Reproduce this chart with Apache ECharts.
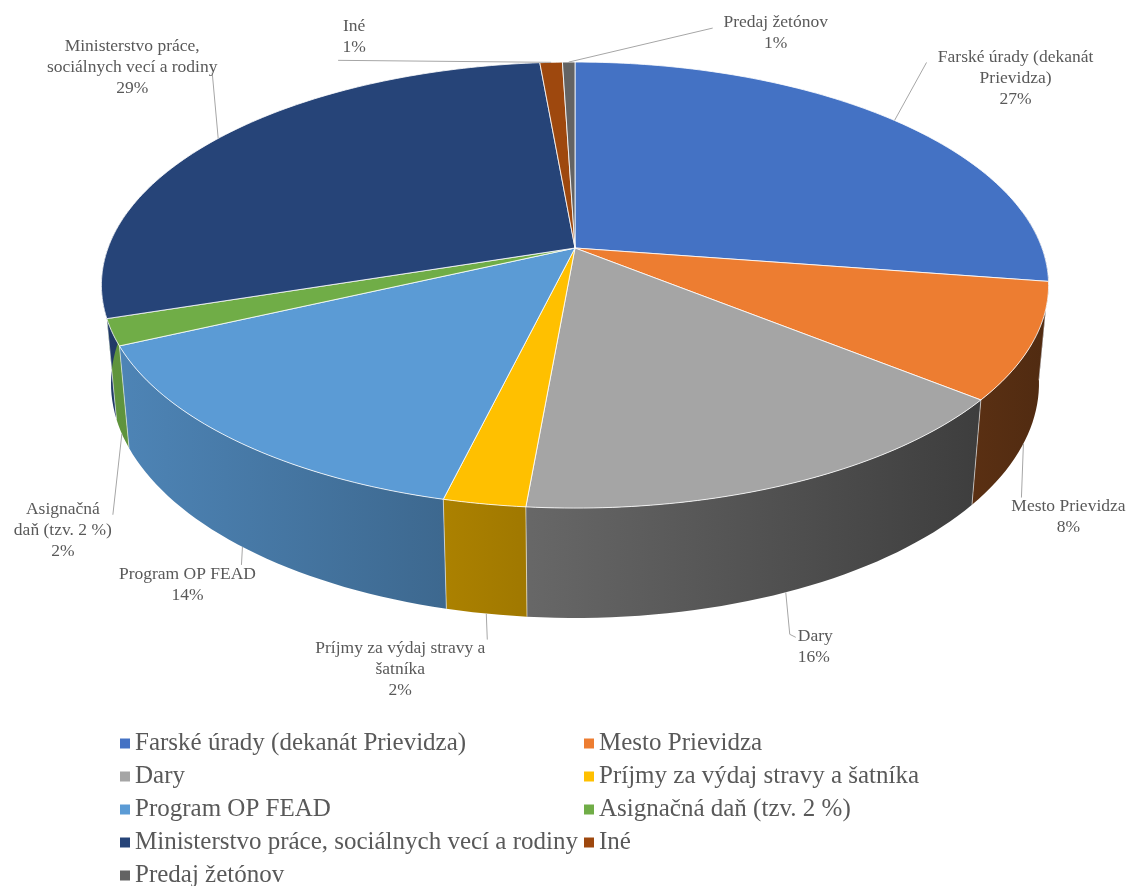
<!DOCTYPE html>
<html>
<head>
<meta charset="utf-8">
<script src="https://cdn.jsdelivr.net/npm/echarts@6/dist/echarts.min.js"></script>
<style>
  html, body { margin: 0; padding: 0; background: #fff; }
  #chart { width: 1136px; height: 886px; }
</style>
</head>
<body>
<div id="chart"></div>
<script>
// Données du graphique
const names = [
  "Farské úrady (dekanát Prievidza)",
  "Mesto Prievidza",
  "Dary",
  "Príjmy za výdaj stravy a šatníka",
  "Program OP FEAD",
  "Asignačná daň (tzv. 2 %)",
  "Ministerstvo práce, sociálnych vecí a rodiny",
  "Iné",
  "Predaj žetónov",
];
const values = [27.4, 8.4, 15.6, 2.4, 14.3, 1.9, 28.6, 0.9, 0.5];
// libellés coupés comme dans l'original
const labelNames = [
  "Farské úrady (dekanát\nPrievidza)",
  "Mesto Prievidza",
  "Dary",
  "Príjmy za výdaj stravy a\nšatníka",
  "Program OP FEAD",
  "Asignačná\ndaň (tzv. 2 %)",
  "Ministerstvo práce,\nsociálnych vecí a rodiny",
  "Iné",
  "Predaj žetónov",
];
const colors = ["#4472C4", "#ED7D31", "#A5A5A5", "#FFC000", "#5B9BD5", "#70AD47", "#264478", "#9E480E", "#636363"];

// Mise en page des étiquettes : décalage du texte et du trait par rapport au point d'ancrage
const labelLayout = [
  { text: [121, -42], line: [[32, -58]], align: "center" },
  { text: [45, 73], line: [[-2, 54]], align: "center" },
  { text: [12, 55], line: [[4, 42], [10, 45]], align: "left" },
  { text: [-86, 56], line: [[1, 26]], align: "center" },
  { text: [-55, 38], line: [[-1, 18]], align: "center" },
  { text: [-59, 97], line: [[-9, 81]], align: "center" },
  { text: [-86, -71], line: [[-6, -66]], align: "center" },
  { text: [-197, -25], line: [[-213, -2]], align: "center" },
  { text: [207, -29], line: [[144, -34]], align: "center" },
];

const total = values.reduce((a, b) => a + b, 0);
const starts = [];
values.reduce((acc, v, i) => { starts[i] = acc; return acc + v; }, 0);

// Projection en perspective du disque
const CX = 575, CY = 248, SX = 467, SY = 474;
const D = 5.35, SIN_A = 0.4575, COS_A = 0.889, H = 0.235;
function proj(deg, r, h) {
  const t = deg * Math.PI / 180;
  const x = r * Math.sin(t);
  const z = -r * Math.cos(t);
  const depth = D - (z * COS_A + h * SIN_A);
  return [CX + SX * D * x / depth, CY - SY * D * (h * COS_A - z * SIN_A) / depth];
}

function shade(hex, f) {
  const n = parseInt(hex.slice(1), 16);
  const r = Math.round(((n >> 16) & 255) * f);
  const g = Math.round(((n >> 8) & 255) * f);
  const b = Math.round((n & 255) * f);
  return `rgb(${r},${g},${b})`;
}

const FONT = '"Liberation Serif", "DejaVu Serif", serif';
// partie visible de la paroi (avant du disque)
const WALL_FROM = 80, WALL_TO = 280;

function renderSlice(params, api) {
  const i = params.seriesIndex;
  const v = api.value(0);
  const a0 = starts[i] / total * 360;
  const a1 = a0 + v / total * 360;
  const children = [];

  // Paroi latérale avec dégradé horizontal (plus sombre à droite)
  const w0 = Math.max(a0, WALL_FROM), w1 = Math.min(a1, WALL_TO);
  if (w1 > w0) {
    const n = Math.max(2, Math.ceil((w1 - w0) / 1.5));
    const topPts = [], botPts = [];
    for (let s = 0; s <= n; s++) {
      const t = w0 + (w1 - w0) * s / n;
      topPts.push(proj(t, 1, 0));
      botPts.push(proj(t, 1, -H));
    }
    children.push({
      type: "polygon",
      silent: true,
      z2: 100,
      shape: { points: topPts.concat(botPts.reverse()) },
      style: {
        fill: {
          type: "linear", global: true,
          x: CX - SX, y: 0, x2: CX + SX, y2: 0,
          colorStops: [
            { offset: 0, color: shade(colors[i], 0.86) },
            { offset: 1, color: shade(colors[i], 0.34) },
          ],
        },
      },
    });
    // trait clair entre deux parts sur la paroi
    if (a0 >= WALL_FROM + 10 && a0 <= WALL_TO) {
      const p = proj(a0, 1, 0), q = proj(a0, 1, -H);
      children.push({
        type: "line", silent: true, z2: 600,
        shape: { x1: p[0], y1: p[1], x2: q[0], y2: q[1] },
        style: { stroke: "rgba(255,255,255,0.55)", lineWidth: 1 },
      });
    }
  }

  // Face supérieure
  const pts = [proj(0, 0, 0)];
  const m = Math.max(2, Math.ceil(a1 - a0));
  for (let s = 0; s <= m; s++) pts.push(proj(a0 + (a1 - a0) * s / m, 1, 0));
  children.push({
    type: "polygon",
    z2: 1000,
    shape: { points: pts },
    style: { fill: colors[i], stroke: "rgba(255,255,255,0.8)", lineWidth: 1, lineJoin: "round" },
  });

  // Étiquette et trait de rappel
  const mid = (a0 + a1) / 2;
  const front = -Math.cos(mid * Math.PI / 180) > 0.2;
  const anchor = proj(mid, 1, front ? -H : 0);
  const lay = labelLayout[i];
  const linePts = [anchor].concat(lay.line.map((o) => [anchor[0] + o[0], anchor[1] + o[1]]));
  children.push({
    type: "polyline", silent: true, z2: 1100,
    shape: { points: linePts },
    style: { stroke: "#a6a6a6", lineWidth: 1, fill: null },
  });
  const pct = Math.round(v / total * 100) + "%";
  children.push({
    type: "text", silent: true, z2: 1100,
    x: anchor[0] + lay.text[0],
    y: anchor[1] + lay.text[1],
    style: {
      text: labelNames[i] + "\n" + pct,
      fill: "#595959",
      font: "17.5px " + FONT,
      lineHeight: 21,
      align: lay.align,
      verticalAlign: "middle",
    },
  });

  return { type: "group", children };
}

const chart = echarts.init(document.getElementById("chart"), null, { renderer: "canvas" });

const legendText = { color: "#595959", fontSize: 25, fontFamily: FONT, lineHeight: 25 };
const legendBase = {
  orient: "vertical", top: 731, height: 200, padding: 0, itemGap: 8,
  itemWidth: 10, itemHeight: 10, icon: "rect", selectedMode: false,
  textStyle: legendText,
};
const option = {
  animation: false,
  legend: [
    Object.assign({}, legendBase, { left: 120, data: [names[0], names[2], names[4], names[6], names[8]] }),
    Object.assign({}, legendBase, { left: 584, data: [names[1], names[3], names[5], names[7]] }),
  ],
  series: names.map((name, i) => ({
    type: "custom",
    name,
    coordinateSystem: "none",
    itemStyle: { color: colors[i] },
    renderItem: renderSlice,
    data: [values[i]],
  })),
};

chart.setOption(option);
</script>
</body>
</html>
